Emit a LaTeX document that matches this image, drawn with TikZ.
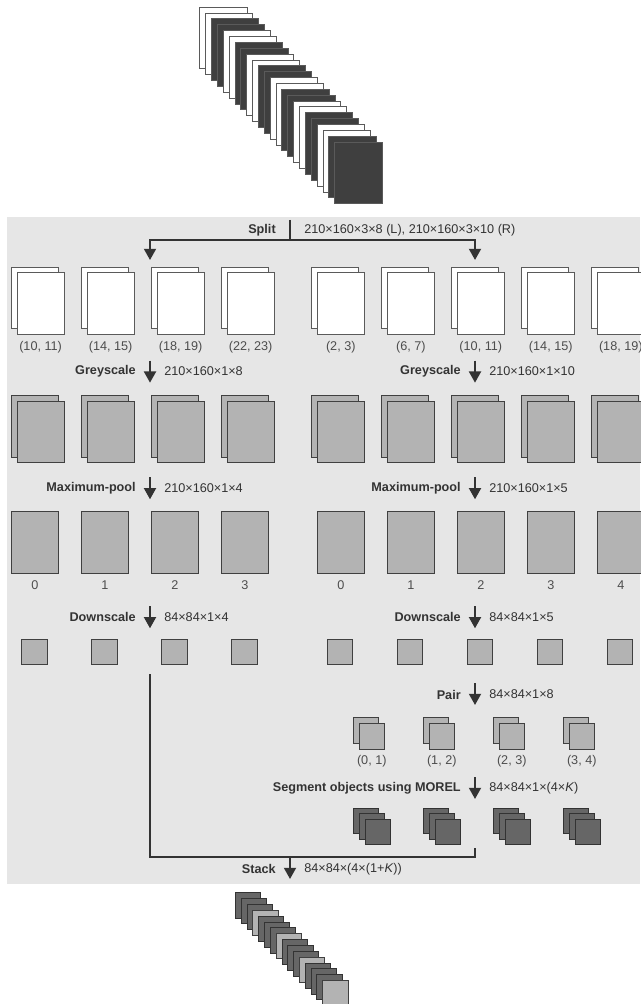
\documentclass[tikz,border=0pt]{standalone}
\usepackage{fontspec}
\setmainfont{Liberation Sans}
\usetikzlibrary{arrows.meta, positioning}
\usepackage{xcolor}

\definecolor{panelbg}{HTML}{E6E6E6}
\definecolor{rawedge}{HTML}{5A5A5A}
\definecolor{darkfill}{HTML}{3F3F3F}
\definecolor{greyfill}{HTML}{B3B3B3}
\definecolor{greyedge}{HTML}{404040}
\definecolor{segfill}{HTML}{666666}
\definecolor{segedge}{HTML}{333333}
\definecolor{ink}{HTML}{333333}
\definecolor{capgrey}{HTML}{4D4D4D}

\begin{document}
\begin{tikzpicture}[
    x=0.025cm, y=0.025cm,
    every node/.append style={font=\fontsize{9}{11}\selectfont},
    frame/.style={draw=greyedge, line width=0.7pt, inner sep=0pt, anchor=north west,
                  minimum width=1.18cm, minimum height=1.54cm},
    rawlight/.style={frame, fill=white, draw=rawedge},
    rawdark/.style={frame, fill=darkfill, draw=rawedge},
    greyframe/.style={frame, fill=greyfill},
    tile/.style={frame, minimum width=0.63cm, minimum height=0.63cm, fill=greyfill},
    segtile/.style={tile, fill=segfill, draw=segedge},
    arr/.style={-{Triangle[width=8.5pt, length=8pt]}, line width=1.5pt, draw=ink},
    conn/.style={line width=1.5pt, draw=ink},
    opname/.style={anchor=east, inner sep=0pt, text=ink,
                   font=\fontsize{9}{11}\selectfont\bfseries},
    dims/.style={anchor=west, inner sep=0pt, text=ink},
    caption/.style={inner sep=0pt, text=capgrey}
  ]
  \useasboundingbox (0,0) rectangle (640,-1004);

  % input frames
  \foreach \i in {0,...,5}
    \foreach \j/\s in {0/rawlight, 1/rawlight, 2/rawdark, 3/rawdark} {
      \pgfmathtruncatemacro{\k}{4*\i+\j}
      \node[\s] (raw\k) at ({199.3+5.87*\k}, {-6.7-5.87*\k}) {};
    }

  \fill[panelbg] (7.3,-216.7) rectangle (640,-884.3);

  % split
  \coordinate (splittop) at (290,-220);
  \coordinate (splitmid) at (290,-240);
  \coordinate (splitL) at (150,-260);
  \coordinate (splitR) at (475,-260);
  \draw[conn] (splittop) -- (splitmid);
  \draw[arr] (splitmid) -| (splitL);
  \draw[arr] (splitmid) -| (splitR);
  \node[opname] (split) at (276,-230) {Split};
  \node[dims] (splitdims) at (304,-230) {210×160×3×8 (L), 210×160×3×10 (R)};

  % colour pairs
  \foreach \k/\lab in {0/{(10, 11)}, 1/{(14, 15)}, 2/{(18, 19)}, 3/{(22, 23)}} {
    \node[rawlight] (lrgbA\k) at ({10.8+70*\k}, -266.7) {};
    \node[rawlight] (lrgbB\k) at ({16.5+70*\k}, -272.3) {};
    \node[caption, below=0.15cm of lrgbB\k] (lrgbcap\k) {\lab};
  }
  \foreach \k/\lab in {0/{(2, 3)}, 1/{(6, 7)}, 2/{(10, 11)}, 3/{(14, 15)}, 4/{(18, 19)}} {
    \node[rawlight] (rrgbA\k) at ({311+70*\k}, -266.7) {};
    \node[rawlight] (rrgbB\k) at ({316.7+70*\k}, -272.3) {};
    \node[caption, below=0.15cm of rrgbB\k] (rrgbcap\k) {\lab};
  }

  % greyscale
  \coordinate (lgreyA) at (150,-360.5);
  \coordinate (lgreyB) at (150,-382.7);
  \coordinate (rgreyA) at (475,-360.5);
  \coordinate (rgreyB) at (475,-382.7);
  \draw[arr] (lgreyA) -- (lgreyB);
  \draw[arr] (rgreyA) -- (rgreyB);
  \node[opname] (lgrey) at (136,-371.5) {Greyscale};
  \node[dims] (lgreydims) at (164,-371.5) {210×160×1×8};
  \node[opname] (rgrey) at (461,-371.5) {Greyscale};
  \node[dims] (rgreydims) at (489,-371.5) {210×160×1×10};

  \foreach \k in {0,...,3} {
    \node[greyframe] (lgsA\k) at ({10.8+70*\k}, -395) {};
    \node[greyframe] (lgsB\k) at ({16.5+70*\k}, -400.7) {};
  }
  \foreach \k in {0,...,4} {
    \node[greyframe] (rgsA\k) at ({311+70*\k}, -395) {};
    \node[greyframe] (rgsB\k) at ({316.7+70*\k}, -400.7) {};
  }

  % maximum-pool
  \coordinate (lpoolA) at (150,-477);
  \coordinate (lpoolB) at (150,-499.3);
  \coordinate (rpoolA) at (475,-477);
  \coordinate (rpoolB) at (475,-499.3);
  \draw[arr] (lpoolA) -- (lpoolB);
  \draw[arr] (rpoolA) -- (rpoolB);
  \node[opname] (lpool) at (136,-488) {Maximum-pool};
  \node[dims] (lpooldims) at (164,-488) {210×160×1×4};
  \node[opname] (rpool) at (461,-488) {Maximum-pool};
  \node[dims] (rpooldims) at (489,-488) {210×160×1×5};

  \foreach \k in {0,...,3} {
    \node[greyframe] (lmax\k) at ({10.8+70*\k}, -511) {};
    \node[caption, below=0.18cm of lmax\k] (lmaxcap\k) {\k};
  }
  \foreach \k in {0,...,4} {
    \node[greyframe] (rmax\k) at ({316.7+70*\k}, -511) {};
    \node[caption, below=0.18cm of rmax\k] (rmaxcap\k) {\k};
  }

  % downscale
  \coordinate (ldownA) at (150,-606);
  \coordinate (ldownB) at (150,-628.3);
  \coordinate (rdownA) at (475,-606);
  \coordinate (rdownB) at (475,-628.3);
  \draw[arr] (ldownA) -- (ldownB);
  \draw[arr] (rdownA) -- (rdownB);
  \node[opname] (ldown) at (136,-617) {Downscale};
  \node[dims] (ldowndims) at (164,-617) {84×84×1×4};
  \node[opname] (rdown) at (461,-617) {Downscale};
  \node[dims] (rdowndims) at (489,-617) {84×84×1×5};

  \foreach \k in {0,...,3}
    \node[tile, anchor=center] (lsmall\k) at ({34.45+70*\k}, -652) {};
  \foreach \k in {0,...,4}
    \node[tile, anchor=center] (rsmall\k) at ({340.35+70*\k}, -652) {};

  % pair
  \coordinate (pairA) at (475,-683);
  \coordinate (pairB) at (475,-705);
  \draw[arr] (pairA) -- (pairB);
  \node[opname] (pair) at (461,-694.5) {Pair};
  \node[dims] (pairdims) at (489,-694.5) {84×84×1×8};

  \foreach \k/\lab in {0/{(0, 1)}, 1/{(1, 2)}, 2/{(2, 3)}, 3/{(3, 4)}} {
    \node[tile] (pairA\k) at ({352.7+70*\k}, -717.3) {};
    \node[tile] (pairB\k) at ({358.7+70*\k}, -723.3) {};
    \node[caption, below=0.14cm of pairB\k] (paircap\k) {\lab};
  }

  % segmentation
  \coordinate (segA) at (475,-777);
  \coordinate (segB) at (475,-799);
  \draw[arr] (segA) -- (segB);
  \node[opname] (seg) at (461,-788) {Segment objects using MOREL};
  \node[dims] (segdims) at (489,-788) {84×84×1×(4×\textit{K})};

  \foreach \k in {0,...,3} {
    \node[segtile] (segA\k) at ({352.7+70*\k}, -807.5) {};
    \node[segtile] (segB\k) at ({358.85+70*\k}, -813.3) {};
    \node[segtile] (segC\k) at ({365+70*\k}, -819.2) {};
  }

  % stack
  \coordinate (stackL) at (150,-674);
  \coordinate (stackR) at (475,-848.3);
  \coordinate (merge) at (475,-856.7);
  \coordinate (stackA) at (290,-856.7);
  \coordinate (stackB) at (290,-879);
  \draw[conn] (stackL) |- (merge) -- (stackR);
  \draw[arr] (stackA) -- (stackB);
  \node[opname] (stack) at (276,-869) {Stack};
  \node[dims] (stackdims) at (304,-869) {84×84×(4×(1+\textit{K}))};

  % output frames
  \foreach \i in {0,...,3}
    \foreach \j/\s in {0/segtile, 1/segtile, 2/segtile, 3/tile} {
      \pgfmathtruncatemacro{\k}{4*\i+\j}
      \node[\s] (out\k) at ({235+5.82*\k}, {-892.3-5.85*\k}) {};
    }
\end{tikzpicture}
\end{document}
